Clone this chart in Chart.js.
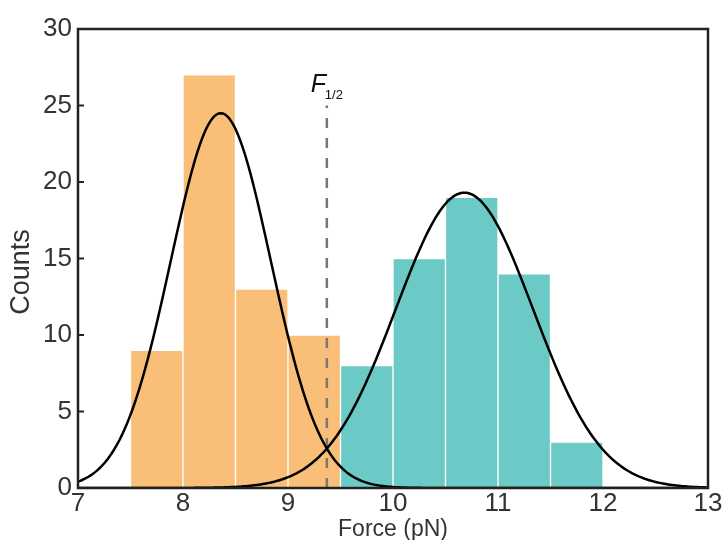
<!DOCTYPE html>
<html><head><meta charset="utf-8">
<script src="https://cdn.jsdelivr.net/npm/chart.js@4.4.0/dist/chart.umd.min.js"></script>
<style>html,body{margin:0;padding:0;background:#fff}</style>
</head><body>
<canvas id="c" width="724" height="540"></canvas>
<script>
// Histogram bins (bin centres, pN) and counts for the two force populations
const lowBinCenters = [7.75, 8.25, 8.75, 9.25];
const lowCounts = [9, 27, 13, 10];
const highBinCenters = [9.75, 10.25, 10.75, 11.25, 11.75];
const highCounts = [8, 15, 19, 14, 3];
const xTicks = [7, 8, 9, 10, 11, 12, 13];
const yTicks = [0, 5, 10, 15, 20, 25, 30];
// Gaussian fits: [amplitude, mean, sigma]
const lowFit = [24.5, 8.36, 0.476];
const highFit = [19.3, 10.68, 0.653];
// Midpoint force F1/2 and the height of its marker line
const fHalf = 9.37;
const fHalfTop = 25.0;

const FONT = "'Liberation Sans', Arial, Helvetica, sans-serif";

function gaussCurve(p) {
  const pts = [];
  const x0 = xTicks[0], x1 = xTicks[xTicks.length - 1];
  for (let i = 0; i <= 300; i++) {
    const x = x0 + i * (x1 - x0) / 300;
    pts.push({ x: x, y: p[0] * Math.exp(-((x - p[1]) ** 2) / (2 * p[2] * p[2])) });
  }
  return pts;
}
const toPts = (xs, ys) => xs.map((x, i) => ({ x: x, y: ys[i] }));

// Box frame, inward y ticks, the y-axis title and the F1/2 label
const framePlugin = {
  id: 'frame',
  afterDraw(chart) {
    const { ctx, chartArea: a, scales } = chart;
    ctx.save();
    ctx.strokeStyle = '#222';
    ctx.lineWidth = 2;
    ctx.beginPath();
    yTicks.forEach(v => {
      const y = scales.y.getPixelForValue(v);
      ctx.moveTo(a.left, y);
      ctx.lineTo(a.left + 6, y);
    });
    ctx.stroke();
    ctx.lineWidth = 2.5;
    ctx.strokeRect(a.left, a.top, a.right - a.left, a.bottom - a.top);

    ctx.fillStyle = '#333';
    ctx.font = '27px ' + FONT;
    ctx.textAlign = 'center';
    ctx.textBaseline = 'middle';
    ctx.translate(22, 272);
    ctx.rotate(-Math.PI / 2);
    ctx.fillText('Counts', 0, 0);
    ctx.setTransform(1, 0, 0, 1, 0, 0);

    const xs = scales.x.getPixelForValue(fHalf);
    ctx.fillStyle = '#111';
    ctx.textAlign = 'left';
    ctx.textBaseline = 'alphabetic';
    ctx.font = 'italic 25px ' + FONT;
    ctx.fillText('F', xs - 16, 92);
    ctx.font = '13px ' + FONT;
    ctx.fillText('1/2', xs - 2, 99);
    ctx.restore();
  }
};

new Chart(document.getElementById('c'), {
  type: 'bar',
  data: {
    datasets: [
      { type: 'line', data: gaussCurve(lowFit), borderColor: '#000', borderWidth: 2.5, pointRadius: 0, tension: 0, order: 0 },
      { type: 'line', data: gaussCurve(highFit), borderColor: '#000', borderWidth: 2.5, pointRadius: 0, tension: 0, order: 0 },
      { type: 'line', data: [{ x: fHalf, y: 0 }, { x: fHalf, y: fHalfTop }], borderColor: '#777', borderWidth: 2.5, borderDash: [10, 10], pointRadius: 0, order: 1 },
      { data: toPts(lowBinCenters, lowCounts), backgroundColor: '#F9BE77', borderColor: '#fff', borderWidth: 1, borderSkipped: 'bottom', barPercentage: 1, categoryPercentage: 1, grouped: false, order: 2 },
      { data: toPts(highBinCenters, highCounts), backgroundColor: '#6BCAC5', borderColor: '#fff', borderWidth: 1, borderSkipped: 'bottom', barPercentage: 1, categoryPercentage: 1, grouped: false, order: 2 }
    ]
  },
  options: {
    responsive: false,
    animation: false,
    devicePixelRatio: 1,
    layout: { padding: { top: 29, right: 16, left: 0, bottom: 0 } },
    plugins: { legend: { display: false }, tooltip: { enabled: false } },
    scales: {
      x: {
        type: 'linear', offset: false, min: xTicks[0], max: xTicks[xTicks.length - 1],
        afterBuildTicks: s => { s.ticks = xTicks.map(v => ({ value: v })); },
        afterFit: s => { s.height = 52; },
        grid: { drawOnChartArea: false, drawTicks: false },
        border: { display: false },
        ticks: { color: '#333', font: { family: FONT, size: 26 }, padding: 0, maxRotation: 0 },
        title: { display: true, text: 'Force (pN)', color: '#333', font: { family: FONT, size: 23 }, padding: { top: 0, bottom: -3 } }
      },
      y: {
        min: yTicks[0], max: yTicks[yTicks.length - 1],
        afterBuildTicks: s => { s.ticks = yTicks.map(v => ({ value: v })); },
        afterFit: s => { s.width = 78; },
        grid: { drawOnChartArea: false, drawTicks: false },
        border: { display: false },
        ticks: { color: '#333', font: { family: FONT, size: 26 }, padding: 6 }
      }
    }
  },
  plugins: [framePlugin]
});
</script>
</body></html>
